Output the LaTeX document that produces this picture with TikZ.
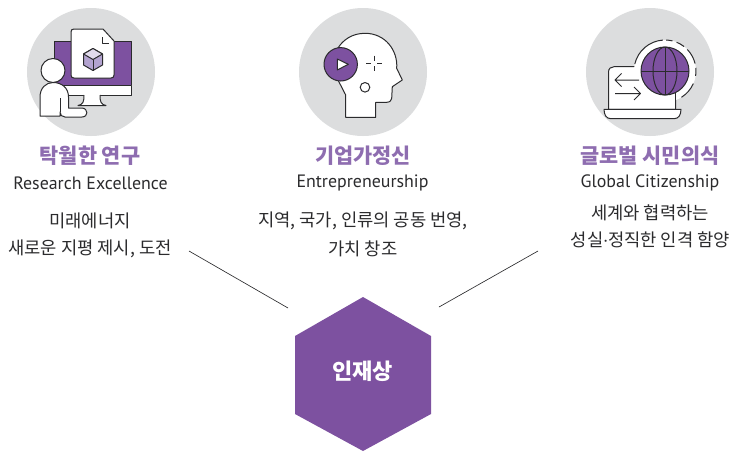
\documentclass[tikz,border=0pt]{standalone}
\usepackage{fontspec}
\setmainfont{PT Sans}
\newfontfamily\kr{Noto Sans CJK KR}
\definecolor{purp}{HTML}{7D51A0}
\definecolor{disc}{HTML}{DCDDDE}
\definecolor{ink}{HTML}{2B2B2D}
\definecolor{lite}{HTML}{B3A3D0}
\definecolor{tone}{HTML}{8E6DB0}
\tikzset{
  x=1pt,y=-1pt,
  disc/.style={circle,fill=disc,minimum size=128pt,inner sep=0pt},
  ln/.style={draw=ink,line width=1pt,line join=round},
  thinln/.style={draw=ink,line width=.65pt},
  ttl/.style={text=tone,font=\kr\bfseries\fontsize{20.8}{24}\selectfont,inner sep=0pt,anchor=center},
  eng/.style={text=ink,font=\fontsize{17.9}{21}\selectfont,inner sep=0pt,anchor=center},
  txt/.style={text=ink,font=\kr\fontsize{17.7}{21}\selectfont,inner sep=0pt,anchor=center},
}
\begin{document}
\begin{tikzpicture}
\useasboundingbox (0,0) rectangle (734,451);
\node[disc] (c1) at (91,72) {};
\node[disc] (c2) at (363,72) {};
\node[disc] (c3) at (650,72) {};

% icon 1
\draw[ln,fill=purp] (54,41) rectangle (131.5,85);
\draw[ln,fill=white] (54,85) rectangle (131.5,95);
\draw[ln,fill=white] (84,95) .. controls (84,102) and (83,104.5) .. (78,105.5) -- (106,105.5) .. controls (101,104.5) and (100,102) .. (100,95);
\draw[ln,fill=white] (74,29) -- (103,29) -- (114,41) -- (114,75) .. controls (114,77) and (113,78) .. (111,78) -- (74,78) .. controls (72,78) and (71,77) .. (71,75) -- (71,32) .. controls (71,30) and (72,29) .. (74,29) -- cycle;
\draw[ln] (102,37) -- (102,43) -- (109,43);
\draw[ln,fill=lite] (93,48.5) -- (102.5,54) -- (102.5,65) -- (93,70.5) -- (83.5,65) -- (83.5,54) -- cycle;
\draw[ln,fill=white!60!lite] (93,48.5) -- (102.5,54) -- (93,59.5) -- (83.5,54) -- cycle;
\draw[ln] (93,59.5) -- (93,70.5);
\draw[ln,fill=white] (40,116) -- (40,97) .. controls (40,88) and (46,82.5) .. (53,82.5) .. controls (62,82.5) and (68.5,88) .. (68.5,97) -- (68.5,108) -- (82,108) .. controls (88.5,108.5) and (88.5,117) .. (82,117) -- (65,117) .. controls (62,117) and (60,115) .. (60,112) -- (60,116) -- cycle;
\draw[ln] (60,112) -- (60,98);
\draw[ln,fill=white] (53,70.5) circle (12);

% icon 2
\draw[ln,fill=white] (345.7,117.3) -- (375.7,117.3) -- (375.7,102.3) -- (386.7,102.3) .. controls (390,102.3) and (391.7,100) .. (391.7,98.3) -- (392.3,86.7) -- (402.3,80) -- (396.7,68.3) .. controls (398,50) and (385,33.3) .. (365,33.3) .. controls (352,33.3) and (343,40) .. (338,48) -- (338,80) -- (345.7,95) -- cycle;
\draw[ln,fill=purp] (340.7,64.3) circle (16.7);
\draw[ln,fill=white] (337.3,59) -- (348.3,64.3) -- (337.3,70) -- cycle;
\draw[thinln] (374,55.5) -- (374,60.5) (374,66) -- (374,71) (366,63.3) -- (371,63.3) (377,63.3) -- (382,63.3);
\draw[ln,fill=white] (365,87.3) circle (4.8);

% icon 3
\draw[ln,fill=white] (608.5,109.3) -- (608.5,72) .. controls (608.5,68.5) and (611,66.7) .. (614,66.7) -- (675.5,66.7) -- (675.5,109.3) -- cycle;
\fill[white] (665,71) circle (31);
\draw[ln] (675.5,90) -- (675.5,109.3);
\draw[ln,fill=white] (604,109.3) -- (681,109.3) .. controls (681,115.5) and (678,118.5) .. (675,118.5) -- (610,118.5) .. controls (607,118.5) and (604,115.5) .. (604,109.3) -- cycle;
\draw[ln] (639,80) -- (615,80) (621.5,73.5) -- (615,80) -- (621.5,86.5);
\draw[ln] (615,93.5) -- (640.5,93.5) (634,87) -- (640.5,93.5) -- (634,100);
\foreach \ta/\tb in {193/266,272/284,292/308,316/346,354/369,384/418}
  \draw[ln] (665,71) ++(\ta:31) arc (\ta:\tb:31);
\draw[ln,fill=purp] (665,71) circle (24);
\draw[ln] (665,71) ellipse (12 and 24);
\draw[ln] (665,47) -- (665,95) (641,71) -- (689,71);

% texts
\node[ttl] (t1) at (90,156) {탁월한 연구};
\node[eng] (e1) at (90.5,183) {Research Excellence};
\node[txt] (d1a) at (90,221) {미래에너지};
\node[txt] (d1b) at (90,249) {새로운 지평 제시, 도전};
\node[ttl] (t2) at (363,156) {기업가정신};
\node[eng] (e2) at (362.5,183) {Entrepreneurship};
\node[txt] (d2a) at (363,221) {지역, 국가, 인류의 공동 번영,};
\node[txt] (d2b) at (363,249) {가치 창조};
\node[ttl] (t3) at (650,156) {글로벌 시민의식};
\node[eng] (e3) at (650,183) {Global Citizenship};
\node[txt] (d3a) at (650,213) {세계와 협력하는};
\node[txt] (d3b) at (650.5,240) {성실{\rmfamily ·}정직한 인격 함양};

% hexagon
\path[fill=purp] (363,297) -- (431,336) -- (431,414) -- (363,451) -- (295,414) -- (295,336) -- cycle;
\coordinate (hexc) at (362.5,371);
\node[text=white,font=\kr\bfseries\fontsize{22}{26}\selectfont,inner sep=0pt] (hex) at (hexc) {인재상};
\coordinate (l1a) at (189,251);
\coordinate (l1b) at (288,308);
\coordinate (l2a) at (538,251);
\coordinate (l2b) at (439,307);
\draw[thinln] (l1a) -- (l1b);
\draw[thinln] (l2a) -- (l2b);
\end{tikzpicture}
\end{document}
